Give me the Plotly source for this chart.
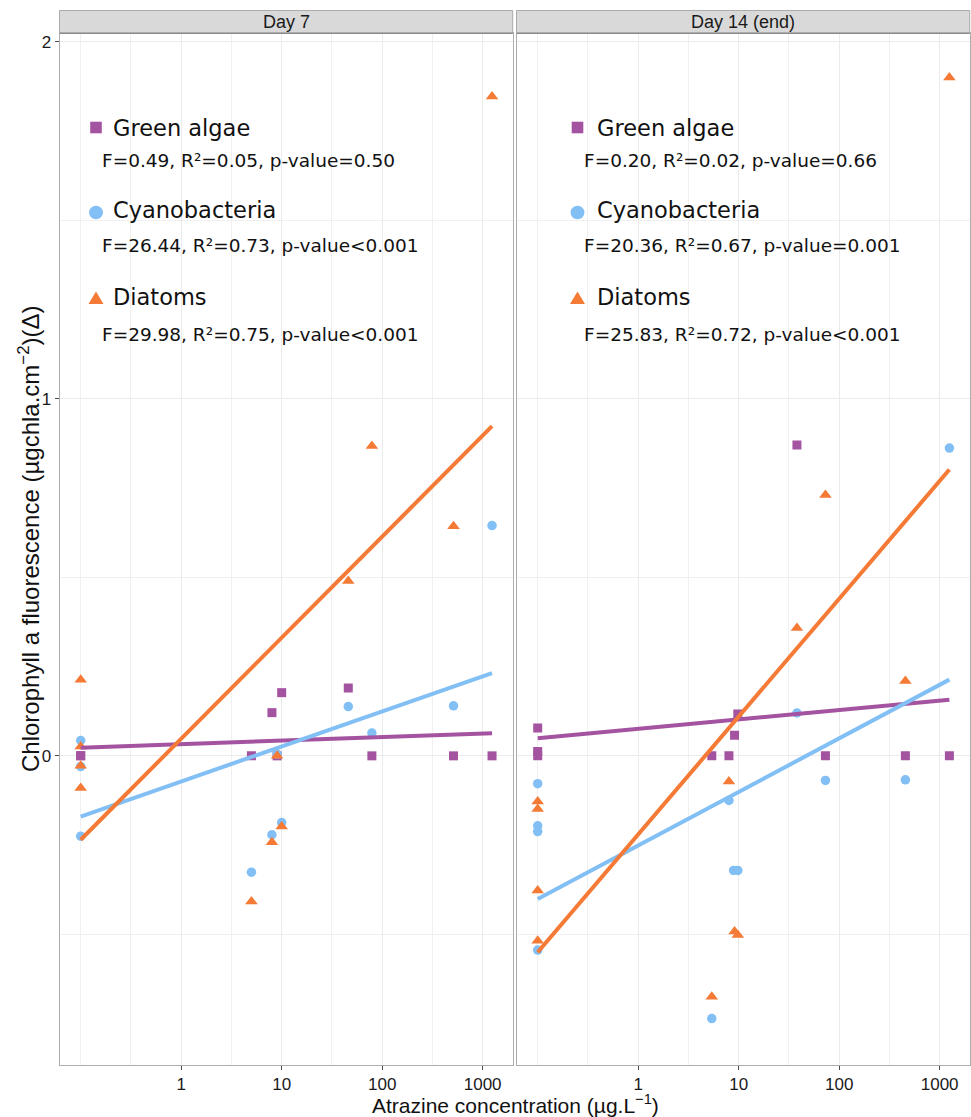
import numpy as np
import plotly.graph_objects as go

# ---------------- data ----------------
days = ["Day 7", "Day 14 (end)"]
groups = ["Green algae", "Cyanobacteria", "Diatoms"]

# Day 7
d7_green_x = [0.1, 0.1, 5, 8, 9, 10, 46, 79, 513, 1240]
d7_green_y = [0.0, 0.0, 0.0, 0.121, 0.0, 0.177, 0.19, 0.0, 0.0, 0.0]
d7_cyano_x = [0.1, 0.1, 0.1, 5, 8, 9, 10, 46, 79, 513, 1240]
d7_cyano_y = [0.043, -0.03, -0.225, -0.326, -0.221, 0.005, -0.187, 0.138, 0.064, 0.14, 0.645]
d7_diat_x = [0.1, 0.1, 0.1, 0.1, 5, 8, 9, 10, 46, 79, 513, 1240]
d7_diat_y = [0.213, 0.026, -0.028, -0.09, -0.408, -0.242, 0.0, -0.198, 0.49, 0.868, 0.643, 1.847]

# Day 14
d14_green_x = [0.1, 0.1, 0.1, 5.4, 8, 9.1, 9.8, 38, 73, 456, 1250]
d14_green_y = [0.078, 0.012, 0.0, 0.0, 0.0, 0.058, 0.117, 0.871, 0.0, 0.0, 0.0]
d14_cyano_x = [0.1, 0.1, 0.1, 0.1, 5.4, 8, 8.9, 9.8, 38, 73, 456, 1250]
d14_cyano_y = [-0.078, -0.196, -0.212, -0.544, -0.736, -0.125, -0.321, -0.321, 0.120, -0.069, -0.067, 0.862]
d14_diat_x = [0.1, 0.1, 0.1, 0.1, 5.4, 8, 9.1, 9.8, 38, 73, 456, 1250]
d14_diat_y = [-0.128, -0.149, -0.377, -0.518, -0.675, -0.072, -0.492, -0.502, 0.358, 0.731, 0.210, 1.90]

# linear fits y = a + b*log10(x)  (intercepts / slopes)
d7_fit_a = [0.0329, -0.0718, 0.048]
d7_fit_b = [0.0099, 0.0982, 0.283]
d14_fit_a = [0.0758, -0.251, -0.220]
d14_fit_b = [0.0262, 0.150, 0.330]

d7_stats = ["F=0.49, R²=0.05, p-value=0.50",
            "F=26.44, R²=0.73, p-value<0.001",
            "F=29.98, R²=0.75, p-value<0.001"]
d14_stats = ["F=0.20, R²=0.02, p-value=0.66",
             "F=20.36, R²=0.67, p-value=0.001",
             "F=25.83, R²=0.72, p-value<0.001"]

x_tickvals = [1, 10, 100, 1000]
x_ticktext = ["1", "10", "100", "1000"]
x_minor = [0.1, 10 ** -0.5, 10 ** 0.5, 10 ** 1.5, 10 ** 2.5]
y_tickvals = [0, 1, 2]
y_minor = [-0.5, 0.5, 1.5]

colors = ["#A453A0", "#82BFF5", "#F47A36"]
symbols = ["square", "circle", "triangle-up"]
msizes = [9, 9.5, 11]

# ---------------- figure ----------------
W, H = 971, 1117
def px(x):
    return x / W
def py(y):
    return 1 - y / H

panels = [
    dict(xs=[d7_green_x, d7_cyano_x, d7_diat_x], ys=[d7_green_y, d7_cyano_y, d7_diat_y],
         a=d7_fit_a, b=d7_fit_b, stats=d7_stats),
    dict(xs=[d14_green_x, d14_cyano_x, d14_diat_x], ys=[d14_green_y, d14_cyano_y, d14_diat_y],
         a=d14_fit_a, b=d14_fit_b, stats=d14_stats),
]

fig = go.Figure()
for p, pan in enumerate(panels):
    xa = "x" if p == 0 else "x2"
    ya = "y" if p == 0 else "y2"
    for g in range(3):
        fig.add_trace(go.Scatter(
            x=pan["xs"][g], y=pan["ys"][g], mode="markers", xaxis=xa, yaxis=ya,
            marker=dict(symbol=symbols[g], size=msizes[g], color=colors[g],
                        line=dict(width=0)),
            showlegend=False, name=groups[g]))
    for g in range(3):
        xr = np.array([min(pan["xs"][g]), max(pan["xs"][g])], dtype=float)
        yr = pan["a"][g] + pan["b"][g] * np.log10(xr)
        fig.add_trace(go.Scatter(
            x=xr, y=yr, mode="lines", xaxis=xa, yaxis=ya,
            line=dict(color=colors[g], width=4), showlegend=False,
            hoverinfo="skip"))

panel_x = [(59.5, 512.7), (516.5, 969.7)]
y_top, y_bot = 33.3, 1065
xr_log = [-1.211, 3.299]
yr = [-0.866, 2.024]

tickfont = dict(family="Liberation Sans, Arial", size=17, color="#1a1a1a")
common_x = dict(type="log", range=xr_log, tickvals=x_tickvals, ticktext=x_ticktext,
                ticks="outside", ticklen=4, tickcolor="#4d4d4d", tickfont=tickfont,
                showgrid=True, gridcolor="#EBEBEB", gridwidth=1,
                minor=dict(tickmode="array", tickvals=x_minor, showgrid=True,
                           gridcolor="#F0F0F0", gridwidth=1, ticks=""),
                showline=True, linecolor="#ADADAD", linewidth=1, mirror=True,
                zeroline=False, automargin=False, fixedrange=True)
common_y = dict(range=yr, tickvals=y_tickvals, ticks="outside", ticklen=4,
                tickcolor="#4d4d4d", tickfont=tickfont,
                showgrid=True, gridcolor="#EBEBEB", gridwidth=1,
                minor=dict(tickmode="array", tickvals=y_minor, showgrid=True,
                           gridcolor="#F0F0F0", gridwidth=1, ticks=""),
                showline=True, linecolor="#ADADAD", linewidth=1, mirror=True,
                zeroline=False, automargin=False, fixedrange=True,
                domain=[py(y_bot), py(y_top)])

fig.update_layout(
    width=W, height=H, margin=dict(l=0, r=0, t=0, b=0),
    paper_bgcolor="white", plot_bgcolor="white", showlegend=False,
    xaxis=dict(common_x, domain=[px(panel_x[0][0]), px(panel_x[0][1])], anchor="y"),
    xaxis2=dict(common_x, domain=[px(panel_x[1][0]), px(panel_x[1][1])], anchor="y2"),
    yaxis=dict(common_y, anchor="x"),
    yaxis2=dict(common_y, anchor="x2", showticklabels=False, ticks=""),
)

shapes = []
annotations = []
# strips
for p, (x0, x1) in enumerate(panel_x):
    shapes.append(dict(type="rect", xref="paper", yref="paper",
                       x0=px(x0), x1=px(x1), y0=py(y_top), y1=py(10.5),
                       fillcolor="#D9D9D9", line=dict(color="#ABABAB", width=1)))
    shapes.append(dict(type="line", xref="paper", yref="paper",
                       x0=px(x0), x1=px(x1), y0=py(y_top), y1=py(y_top),
                       line=dict(color="#8A8A8A", width=1.5)))
    annotations.append(dict(text=days[p], xref="paper", yref="paper",
                            x=px((x0 + x1) / 2), y=py(21.8), showarrow=False,
                            xanchor="center", yanchor="middle",
                            font=dict(family="Liberation Sans, Arial", size=18, color="#1a1a1a")))

# legends inside panels
key_x = [96, 577.5]
head_x = [111.0, 594.5]
stat_x = [99.5, 582.0]
head_base = [136, 218.3, 305]
stat_base = [166.7, 251.7, 341.2]
key_y = [127.5, 212.5, 298.5]
head_fs, stat_fs = 22.5, 18.5
lfont = "DejaVu Sans, sans-serif"
for p in range(2):
    kx = key_x[p]
    s = 5.8
    shapes.append(dict(type="rect", xref="paper", yref="paper",
                       x0=px(kx - s), x1=px(kx + s), y0=py(key_y[0] + s), y1=py(key_y[0] - s),
                       fillcolor=colors[0], line=dict(width=0)))
    r = 7
    shapes.append(dict(type="circle", xref="paper", yref="paper",
                       x0=px(kx - r), x1=px(kx + r), y0=py(key_y[1] + r * 0.95), y1=py(key_y[1] - r * 0.95),
                       fillcolor=colors[1], line=dict(width=0)))
    ty = key_y[2]
    path = "M {:.5f},{:.5f} L {:.5f},{:.5f} L {:.5f},{:.5f} Z".format(
        px(kx - 7.5), py(ty + 5.5), px(kx + 7.5), py(ty + 5.5), px(kx), py(ty - 7))
    shapes.append(dict(type="path", xref="paper", yref="paper", path=path,
                       fillcolor=colors[2], line=dict(width=0)))
    stats = panels[p]["stats"]
    for g in range(3):
        annotations.append(dict(text=groups[g], xref="paper", yref="paper",
                                x=px(head_x[p]), y=py(head_base[g] - 0.35 * head_fs),
                                xanchor="left", yanchor="middle", showarrow=False,
                                font=dict(family=lfont, size=head_fs, color="#111111")))
        annotations.append(dict(text=stats[g], xref="paper", yref="paper",
                                x=px(stat_x[p]), y=py(stat_base[g] - 0.35 * stat_fs),
                                xanchor="left", yanchor="middle", showarrow=False,
                                font=dict(family=lfont, size=stat_fs, color="#111111")))

# axis titles
annotations.append(dict(text="Chlorophyll a fluorescence (µgchla.cm<sup>−2</sup>)(Δ)",
                        xref="paper", yref="paper", x=px(29), y=py(539),
                        textangle=-90, showarrow=False, xanchor="center", yanchor="middle",
                        font=dict(family="Liberation Sans, Arial", size=24, color="#111111")))
annotations.append(dict(text="Atrazine concentration (µg.L<sup>−1</sup>)",
                        xref="paper", yref="paper", x=px(515), y=py(1104),
                        showarrow=False, xanchor="center", yanchor="middle",
                        font=dict(family="Liberation Sans, Arial", size=21, color="#111111")))

fig.update_layout(shapes=shapes, annotations=annotations)
fig.write_html("out.html", config={"displayModeBar": False},
               post_script="document.body.style.margin='0px';document.body.style.overflow='hidden';")
